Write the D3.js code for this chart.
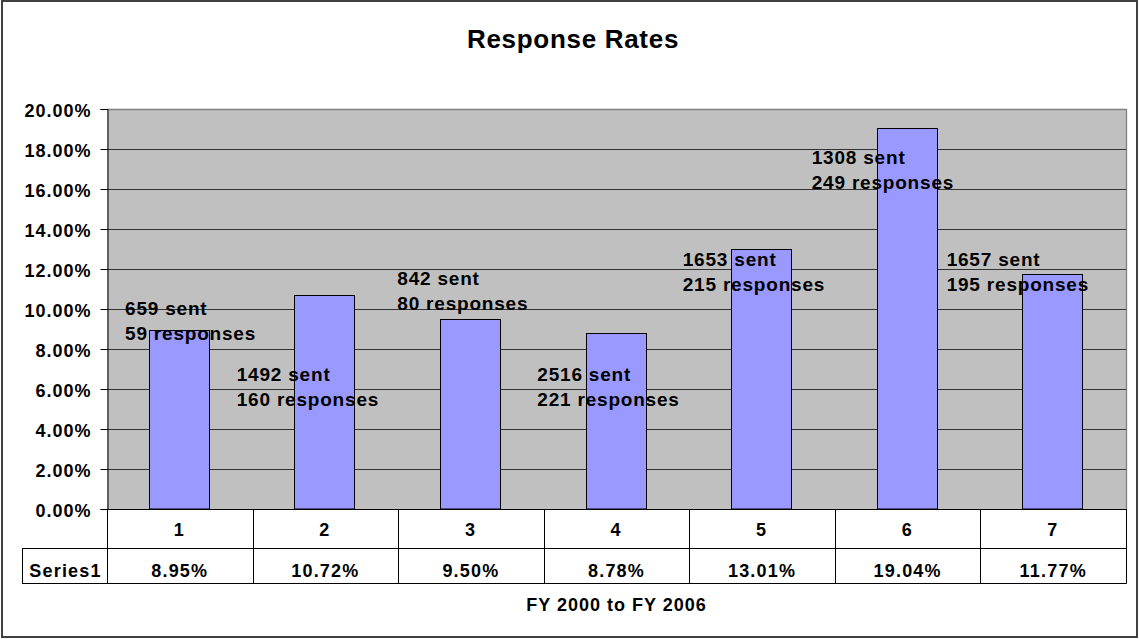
<!DOCTYPE html>
<html>
<head>
<meta charset="utf-8">
<script src="https://cdn.jsdelivr.net/npm/d3@7"></script>
<style>
  html, body { margin: 0; padding: 0; background: #fff; }
  svg text { font-family: "Liberation Sans", Arial, sans-serif; font-weight: bold; fill: #000; }
</style>
</head>
<body>
<svg id="chart" width="1139" height="639"></svg>
<script>
// ---- data ----
const categories = ["1", "2", "3", "4", "5", "6", "7"];
const rates = [8.95, 10.72, 9.50, 8.78, 13.01, 19.04, 11.77];
const sent = [659, 1492, 842, 2516, 1653, 1308, 1657];
const responses = [59, 160, 80, 221, 215, 249, 195];
const yTicks = [0, 2, 4, 6, 8, 10, 12, 14, 16, 18, 20];
const seriesName = "Series1";
const chartTitle = "Response Rates";
const xTitle = "FY 2000 to FY 2006";
// label anchors in data units (category offset from band centre, percent value)
const labelOffsetCat = [-0.376, -0.609, -0.506, -0.544, -0.545, -0.659, -0.732];
const labelAtPct = [9.70, 6.42, 11.20, 6.42, 12.15, 17.25, 12.16];

// ---- layout ----
const W = 1139, H = 639;
const plot = { left: 107, right: 1126, top: 109, bottom: 509 };
const rowH1 = 39, rowH2 = 35, tableLeft = 22;

const svg = d3.select("#chart");

// outer border
svg.append("rect").attr("x", 2).attr("y", 1).attr("width", 1135).attr("height", 636)
  .attr("fill", "#fff").attr("stroke", "#404040").attr("stroke-width", 2);

const x = d3.scaleBand().domain(categories).range([plot.left, plot.right])
  .paddingInner(0.6).paddingOuter(0.3);
const xCol = d3.scaleBand().domain(categories).range([plot.left, plot.right]).padding(0);
const y = d3.scaleLinear().domain([0, 20]).range([plot.bottom, plot.top]);
const step = xCol.step();
const barW = 60;

// plot background
svg.append("rect").attr("x", plot.left).attr("y", plot.top)
  .attr("width", plot.right - plot.left).attr("height", plot.bottom - plot.top)
  .attr("fill", "#C0C0C0");

// gridlines
svg.append("g").selectAll("line").data(yTicks.filter(t => t > 0 && t < 20)).join("line")
  .attr("x1", plot.left).attr("x2", plot.right)
  .attr("y1", d => Math.round(y(d)) + 0.5).attr("y2", d => Math.round(y(d)) + 0.5)
  .attr("stroke", "#333").attr("stroke-width", 1);

// plot border top/right
svg.append("path")
  .attr("d", `M${plot.left},${plot.top + 0.5}H${plot.right + 0.5}V${plot.bottom}`)
  .attr("fill", "none").attr("stroke", "#808080").attr("stroke-width", 1.3);

// bars
svg.append("g").selectAll("rect").data(rates).join("rect")
  .attr("x", (d, i) => Math.round(x(categories[i]) + x.bandwidth() / 2 - barW / 2 - 1) + 0.5)
  .attr("y", d => Math.round(y(d)) + 0.5)
  .attr("width", barW)
  .attr("height", d => plot.bottom - Math.round(y(d)) - 0.5)
  .attr("fill", "#9999FF").attr("stroke", "#000").attr("stroke-width", 1);

// y axis
const yAxis = d3.axisLeft(y).tickValues(yTicks).tickSize(7).tickPadding(0)
  .tickFormat(d => d3.format(".2f")(d) + "%");
const gy = svg.append("g").attr("transform", `translate(${plot.left + 0.5},0)`).call(yAxis);
gy.select(".domain").attr("stroke", "#000");
gy.selectAll(".tick line").attr("stroke", "#000");
gy.selectAll(".tick text")
  .attr("x", -16).attr("dy", "0.4em")
  .style("font-size", "18px").style("letter-spacing", "1px")
  .attr("fill", "#000");
gy.attr("font-family", null).attr("font-size", null);

// data labels
const lbl = svg.append("g").selectAll("text").data(rates).join("text")
  .attr("x", (d, i) => xCol(categories[i]) + step / 2 + labelOffsetCat[i] * step)
  .attr("y", (d, i) => y(labelAtPct[i]))
  .style("font-size", "19px").style("letter-spacing", "0.8px");
lbl.append("tspan").text((d, i) => sent[i] + " sent");
lbl.append("tspan")
  .attr("x", (d, i) => xCol(categories[i]) + step / 2 + labelOffsetCat[i] * step)
  .attr("dy", 25).text((d, i) => responses[i] + " responses");

// data table
const t = svg.append("g");
const yRow1 = plot.bottom, yRow2 = plot.bottom + rowH1, yEnd = plot.bottom + rowH1 + rowH2;
t.append("line").attr("x1", tableLeft).attr("x2", plot.right + 0.5)
  .attr("y1", yRow2 + 0.5).attr("y2", yRow2 + 0.5).attr("stroke", "#000");
t.append("line").attr("x1", tableLeft).attr("x2", plot.right + 0.5)
  .attr("y1", yEnd + 0.5).attr("y2", yEnd + 0.5).attr("stroke", "#000");
t.append("line").attr("x1", plot.left).attr("x2", plot.right + 0.5)
  .attr("y1", yRow1 + 0.5).attr("y2", yRow1 + 0.5).attr("stroke", "#000");
const colEdges = categories.map(c => xCol(c)).concat([plot.right]);
t.selectAll("line.v").data(colEdges).join("line").attr("class", "v")
  .attr("x1", d => Math.round(d) + 0.5).attr("x2", d => Math.round(d) + 0.5)
  .attr("y1", yRow1).attr("y2", yEnd + 0.5).attr("stroke", "#000");
t.append("line").attr("x1", tableLeft + 0.5).attr("x2", tableLeft + 0.5)
  .attr("y1", yRow2).attr("y2", yEnd + 0.5).attr("stroke", "#000");
t.selectAll("text.cat").data(categories).join("text").attr("class", "cat")
  .attr("x", d => xCol(d) + step / 2 - 1).attr("y", yRow1 + 27)
  .attr("text-anchor", "middle")
  .style("font-size", "18px").text(d => d);
t.selectAll("text.val").data(rates).join("text").attr("class", "val")
  .attr("x", (d, i) => xCol(categories[i]) + step / 2).attr("y", yRow2 + 29)
  .attr("text-anchor", "middle")
  .style("font-size", "18px").style("letter-spacing", "1.2px")
  .text(d => d3.format(".2f")(d) + "%");
t.append("text").attr("x", (tableLeft + plot.left) / 2 + 1).attr("y", yRow2 + 29)
  .attr("text-anchor", "middle")
  .style("font-size", "18px").style("letter-spacing", "1.2px").text(seriesName);

// titles
svg.append("text").attr("x", 573).attr("y", 48).attr("text-anchor", "middle")
  .style("font-size", "26px").style("letter-spacing", "0.7px").text(chartTitle);
svg.append("text").attr("x", (plot.left + plot.right) / 2).attr("y", 611)
  .attr("text-anchor", "middle")
  .style("font-size", "18px").style("letter-spacing", "1px").text(xTitle);
</script>
</body>
</html>
